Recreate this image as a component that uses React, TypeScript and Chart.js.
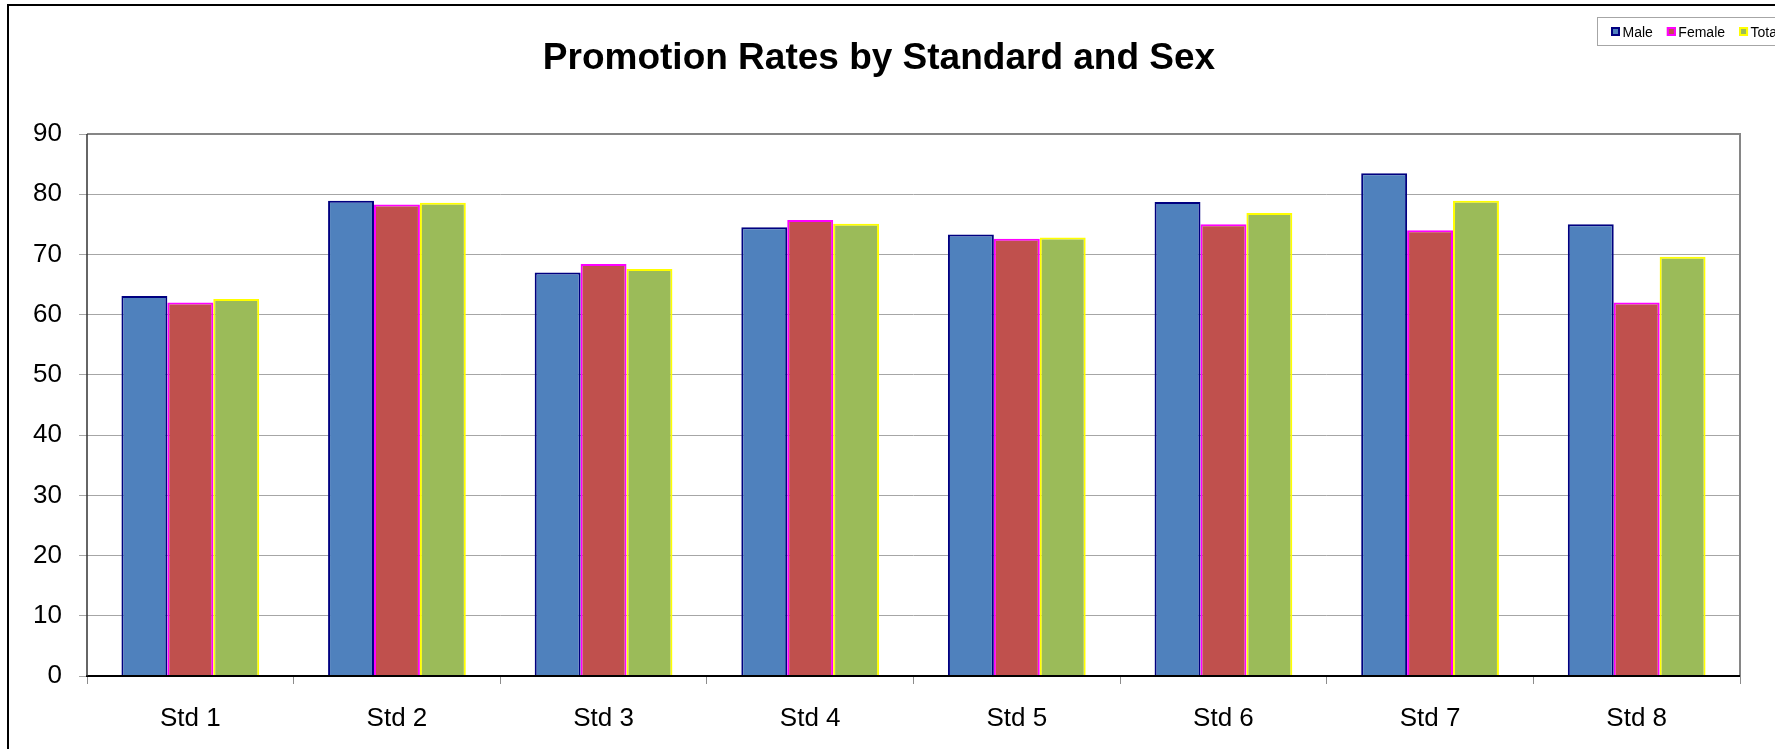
import React, { useEffect, useRef } from 'react';
import { Chart, registerables } from 'chart.js';

Chart.register(...registerables);

const categories: string[] = ['Std 1', 'Std 2', 'Std 3', 'Std 4', 'Std 5', 'Std 6', 'Std 7', 'Std 8'];
const maleValues: number[] = [63.1, 78.9, 67.0, 74.5, 73.3, 78.7, 83.5, 75.0];
const femaleValues: number[] = [62.0, 78.3, 68.4, 75.7, 72.6, 75.0, 74.0, 62.0];
const totalValues: number[] = [62.6, 78.6, 67.6, 75.1, 72.8, 76.9, 78.9, 69.6];
const seriesNames: string[] = ['Male', 'Female', 'Total'];
const yMin = 0;
const yMax = 90;
const yStep = 10;
const titleText = 'Promotion Rates by Standard and Sex';

const FONT = "Arial, 'Liberation Sans', sans-serif";
const CANVAS_W = 1816;
const CANVAS_H = 800;

const plotFramePlugin = {
  id: 'plotFrame',
  afterDatasetsDraw(chart: any) {
    const { ctx, chartArea: a } = chart;
    ctx.save();
    ctx.strokeStyle = '#868686';
    ctx.lineWidth = 2;
    ctx.beginPath();
    ctx.moveTo(a.left, a.top);
    ctx.lineTo(a.right, a.top);
    ctx.lineTo(a.right, a.bottom);
    ctx.stroke();
    ctx.strokeStyle = '#000';
    ctx.lineWidth = 2;
    ctx.beginPath();
    ctx.moveTo(a.left - 1, a.bottom);
    ctx.lineTo(a.right, a.bottom);
    ctx.stroke();
    ctx.strokeStyle = '#333';
    ctx.lineWidth = 1.5;
    ctx.beginPath();
    ctx.moveTo(a.left, a.top);
    ctx.lineTo(a.left, a.bottom);
    ctx.stroke();
    ctx.restore();
  },
};

const legendBoxPlugin = {
  id: 'legendBox',
  afterDraw(chart: any) {
    const { ctx } = chart;
    const left = 1588;
    const top = 11;
    const h = 28;
    ctx.save();
    ctx.strokeStyle = '#a6a6a6';
    ctx.lineWidth = 1;
    ctx.strokeRect(left + 0.5, top + 0.5, 260, h);
    ctx.font = `14px ${FONT}`;
    ctx.textBaseline = 'alphabetic';
    ctx.fillStyle = '#000';
    let x = left + 14;
    chart.data.datasets.forEach((ds: any) => {
      ctx.fillStyle = ds.backgroundColor;
      ctx.fillRect(x, 21, 9, 9);
      ctx.strokeStyle = ds.borderColor;
      ctx.lineWidth = 2;
      ctx.strokeRect(x + 1, 22, 7, 7);
      ctx.fillStyle = '#000';
      const tx = x + 11.5;
      ctx.fillText(ds.label, tx, 30.5);
      x = tx + ctx.measureText(ds.label).width + 14;
    });
    ctx.restore();
  },
};

export default function App() {
  const ref = useRef<HTMLCanvasElement | null>(null);

  useEffect(() => {
    document.body.style.overflow = 'hidden';
    if (!ref.current) return;
    const chart = new Chart(ref.current, {
      type: 'bar',
      data: {
        labels: categories,
        datasets: [
          {
            label: seriesNames[0],
            data: maleValues,
            backgroundColor: '#4F81BD',
            borderColor: '#000080',
            borderWidth: 2,
          },
          {
            label: seriesNames[1],
            data: femaleValues,
            backgroundColor: '#C0504D',
            borderColor: '#FF00FF',
            borderWidth: 2,
          },
          {
            label: seriesNames[2],
            data: totalValues,
            backgroundColor: '#9BBB59',
            borderColor: '#FFFF00',
            borderWidth: 2,
          },
        ],
      },
      plugins: [plotFramePlugin, legendBoxPlugin],
      options: {
        responsive: false,
        animation: false,
        devicePixelRatio: 1,
        layout: { padding: { left: 9, right: CANVAS_W - 1731, top: 0, bottom: 0 } },
        datasets: {
          bar: { categoryPercentage: 3 / 4.5, barPercentage: 1, borderSkipped: 'start' },
        },
        plugins: {
          legend: { display: false },
          tooltip: { enabled: false },
          title: {
            display: true,
            text: titleText,
            color: '#000',
            font: { family: FONT, size: 37, weight: 'bold', lineHeight: 1.2 },
            padding: { top: 31, bottom: 52.6 },
          },
        },
        scales: {
          x: {
            grid: {
              display: true,
              drawOnChartArea: false,
              drawTicks: true,
              tickLength: 8,
              color: '#8c8c8c',
              offset: true,
            },
            border: { display: false },
            ticks: {
              color: '#000',
              font: { family: FONT, size: 26 },
              padding: 19,
              maxRotation: 0,
            },
            afterFit: (scale: any) => {
              scale.height = CANVAS_H - 670;
            },
          },
          y: {
            min: yMin,
            max: yMax,
            grid: {
              color: '#a6a6a6',
              lineWidth: 1,
              tickLength: 8,
              drawTicks: true,
            },
            border: { display: false },
            ticks: {
              stepSize: yStep,
              color: '#000',
              font: { family: FONT, size: 26 },
              padding: 17,
            },
            afterFit: (scale: any) => {
              scale.width = 69;
            },
          },
        },
      },
    } as any);
    return () => chart.destroy();
  }, []);

  return (
    <div
      style={{
        position: 'fixed',
        left: 7,
        top: 4,
        width: CANVAS_W,
        height: CANVAS_H,
        border: '2px solid #000',
        background: '#fff',
        overflow: 'hidden',
      }}
    >
      <canvas
        ref={ref}
        width={CANVAS_W}
        height={CANVAS_H}
        style={{ display: 'block', width: CANVAS_W, height: CANVAS_H }}
      />
    </div>
  );
}
